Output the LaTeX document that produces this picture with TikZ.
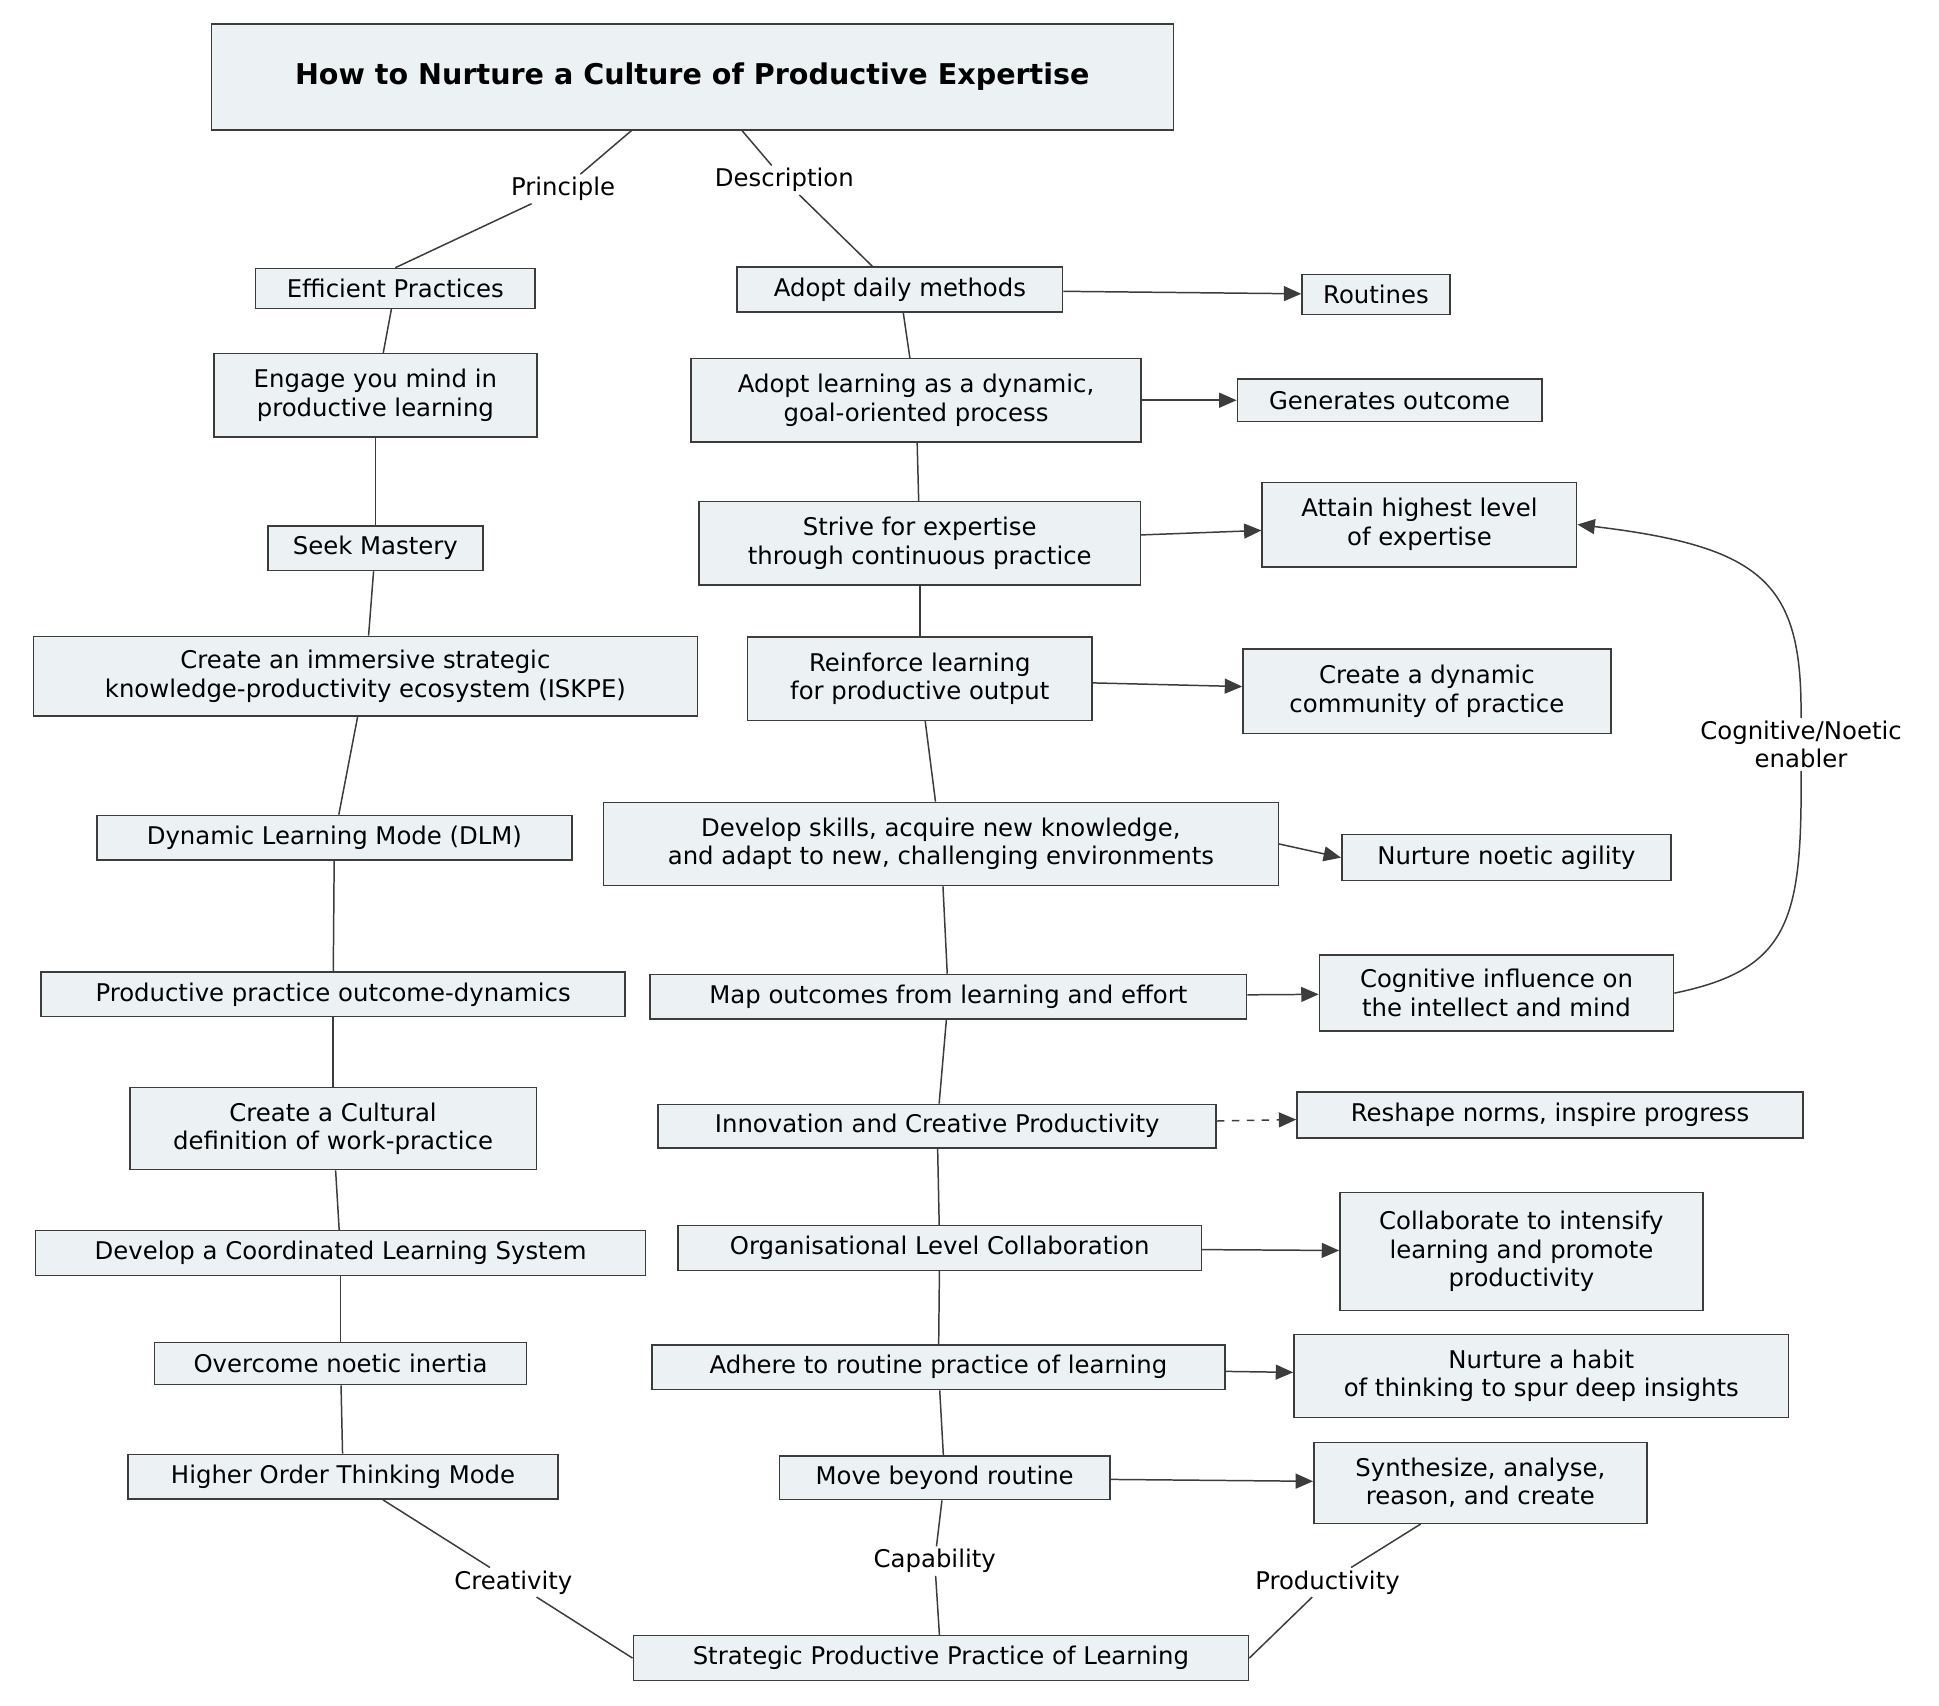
\documentclass[tikz,border=0pt]{standalone}
\usepackage{fontspec}
\setmainfont{DejaVu Sans}
\usetikzlibrary{arrows.meta}
\definecolor{bf}{RGB}{236,242,244}
\definecolor{bd}{RGB}{60,60,60}
\begin{document}
\begin{tikzpicture}[x=0.5pt,y=-0.5pt,
 bx/.style={draw=bd,fill=bf,line width=0.6pt,align=center,inner sep=0pt,font=\fontsize{9.8}{11.5}\selectfont},
 lb/.style={align=center,inner sep=1pt,font=\fontsize{9.8}{11.5}\selectfont},
 ln/.style={draw=bd,line width=0.6pt},
 ar/.style={ln,-{Triangle[length=7pt,width=6pt]}}]
\useasboundingbox (0,0) rectangle (1560,1372);
\newcommand\bx[6]{\node[bx,minimum width=#4*0.5pt,minimum height=#5*0.5pt] (#1) at (#2,#3) {#6};}
\node[bx,minimum width=387pt,minimum height=42.5pt,font=\fontsize{11.5}{13}\selectfont\bfseries] (t) at (557,62) {How to Nurture a Culture of Productive Expertise};
% left
\bx{l1}{318}{232}{225}{32}{Efficient Practices}
\bx{l2}{302}{318}{260}{67}{Engage you mind in\\productive learning}
\bx{l3}{302}{441}{173}{36}{Seek Mastery}
\bx{l4}{294}{544}{534}{64}{Create an immersive strategic\\knowledge-productivity ecosystem (ISKPE)}
\bx{l5}{269}{674}{382}{36}{Dynamic Learning Mode (DLM)}
\bx{l6}{268}{800}{470}{36}{Productive practice outcome-dynamics}
\bx{l7}{268}{908}{327}{66}{Create a Cultural\\definition of work-practice}
\bx{l8}{274}{1008}{491}{36}{Develop a Coordinated Learning System}
\bx{l9}{274}{1097}{299}{34}{Overcome noetic inertia}
\bx{l10}{276}{1188}{346}{36}{Higher Order Thinking Mode}
% middle
\bx{m1}{724}{233}{262}{36}{Adopt daily methods}
\bx{m2}{737}{322}{362}{67}{Adopt learning as a dynamic,\\goal-oriented process}
\bx{m3}{740}{437}{355}{67}{Strive for expertise\\through continuous practice}
\bx{m4}{740}{546}{277}{67}{Reinforce learning\\for productive output}
\bx{m5}{757}{679}{543}{67}{Develop skills, acquire new knowledge,\\and adapt to new, challenging environments}
\bx{m6}{763}{802}{480}{36}{Map outcomes from learning and effort}
\bx{m7}{754}{906}{449}{35}{Innovation and Creative Productivity}
\bx{m8}{756}{1004}{421}{36}{Organisational Level Collaboration}
\bx{m9}{755}{1100}{461}{36}{Adhere to routine practice of learning}
\bx{m10}{760}{1189}{266}{35}{Move beyond routine}
\bx{sp}{757}{1334}{495}{36}{Strategic Productive Practice of Learning}
% right
\bx{r1}{1107}{237}{119}{32}{Routines}
\bx{r2}{1118}{322}{245}{34}{Generates outcome}
\bx{r3}{1142}{422}{253}{68}{Attain highest level\\of expertise}
\bx{r4}{1148}{556}{296}{68}{Create a dynamic\\community of practice}
\bx{r5}{1212}{690}{265}{37}{Nurture noetic agility}
\bx{r6}{1204}{799}{285}{61}{Cognitive influence on\\the intellect and mind}
\bx{r7}{1247}{897}{407}{37}{Reshape norms, inspire progress}
\bx{r8}{1224}{1007}{292}{95}{Collaborate to intensify\\learning and promote\\productivity}
\bx{r9}{1240}{1107}{398}{67}{Nurture a habit\\of thinking to spur deep insights}
\bx{r10}{1191}{1193}{268}{65}{Synthesize, analyse,\\reason, and create}
% labels
\node[lb] (pr) at (453,152) {Principle};
\node[lb] (de) at (631,145) {Description};
\node[lb] (cr) at (413,1273) {Creativity};
\node[lb] (ca) at (752,1256) {Capability};
\node[lb] (po) at (1068,1273) {Productivity};
\node[lb] (ce) at (1449,599) {Cognitive/Noetic\\enabler};
% coordinates for chain ends
\draw[ln] (t.south -| 508,0) -- (pr);
\draw[ln] (pr) -- (l1.north);
\draw[ln] (t.south -| 597,0) -- (de);
\draw[ln] (de) -- (m1.north -| 702,0);
\foreach \a/\b in {l1/l2,l2/l3,l3/l4,l4/l5,l5/l6,l6/l7,l7/l8,l8/l9,l9/l10,
 m1/m2,m2/m3,m3/m4,m4/m5,m5/m6,m6/m7,m7/m8,m8/m9,m9/m10}
 \draw[ln] (\a) -- (\b);
\draw[ln] (l10.south -| 308,0) -- (cr);
\draw[ln] (cr) -- (sp.west);
\draw[ln] (m10) -- (ca);
\draw[ln] (ca) -- (sp);
\draw[ln] (r10.south -| 1143,0) -- (po);
\draw[ln] (po) -- (sp.east);
% arrows
\draw[ar] (m1) -- (r1);
\draw[ar] (m2) -- (r2);
\draw[ar] (m3) -- (r3);
\draw[ar] (m4) -- (r4);
\draw[ar] (m5.east) -- (r5.west);
\draw[ar] (m6) -- (r6);
\draw[ar,dashed] (m7) -- (r7);
\draw[ar] (m8) -- (r8);
\draw[ar] (m9) -- (r9);
\draw[ar] (m10) -- (r10);
\draw[ln] (r6.east) .. controls (1440,780) and (1450,740) .. (ce.south);
\draw[ar] (ce.north) .. controls (1450,470) and (1420,440) .. (r3.east);
\end{tikzpicture}
\end{document}
